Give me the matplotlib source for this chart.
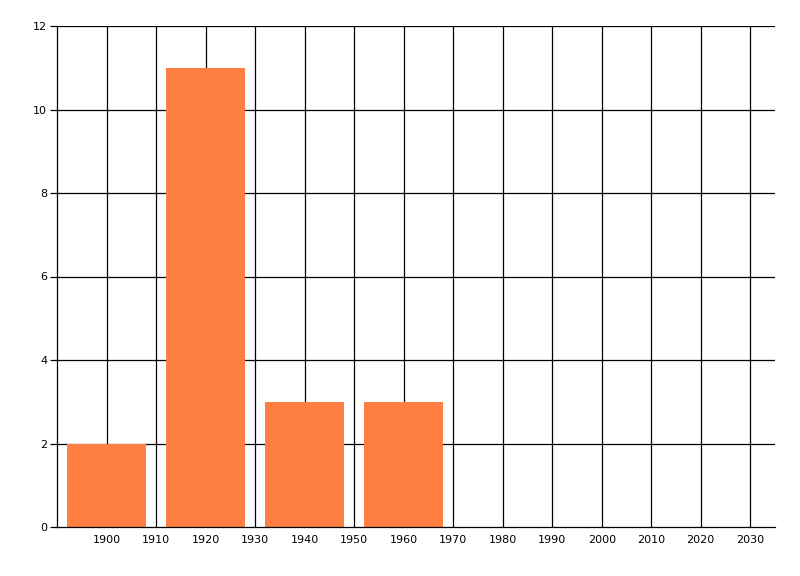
"""Bar chart of counts per 20-year bin."""
import matplotlib
matplotlib.use("Agg")
import matplotlib.pyplot as plt

# Data
years = [1900, 1920, 1940, 1960]
counts = [2, 11, 3, 3]
x_ticks = list(range(1900, 2031, 10))
y_ticks = [0, 2, 4, 6, 8, 10, 12]

plt.rcParams["font.family"] = ["DejaVu Sans"]

fig = plt.figure(figsize=(8.0, 5.76), dpi=100)
ax = fig.add_axes([57 / 800, 1 - 527 / 576, 718 / 800, 501 / 576])

# Bars
ax.bar(years, counts, width=16, color="#FF7F42", zorder=3)

# Grid
for x in x_ticks:
    ax.axvline(x, color="black", lw=0.9, zorder=1)
for y in y_ticks[1:]:
    ax.axhline(y, color="black", lw=0.9, zorder=1)

ax.set_xlim(1890, 2035)
ax.set_ylim(0, 12)
ax.set_xticks(x_ticks)
ax.set_yticks(y_ticks)
ax.tick_params(axis="x", length=0, labelsize=8, pad=6)
ax.tick_params(axis="y", length=5, width=0.9, labelsize=8, pad=2)

for side in ["top", "right"]:
    ax.spines[side].set_visible(False)
for side in ["left", "bottom"]:
    ax.spines[side].set_linewidth(0.9)
    ax.spines[side].set_zorder(4)

fig.savefig("out.png", dpi=100)
